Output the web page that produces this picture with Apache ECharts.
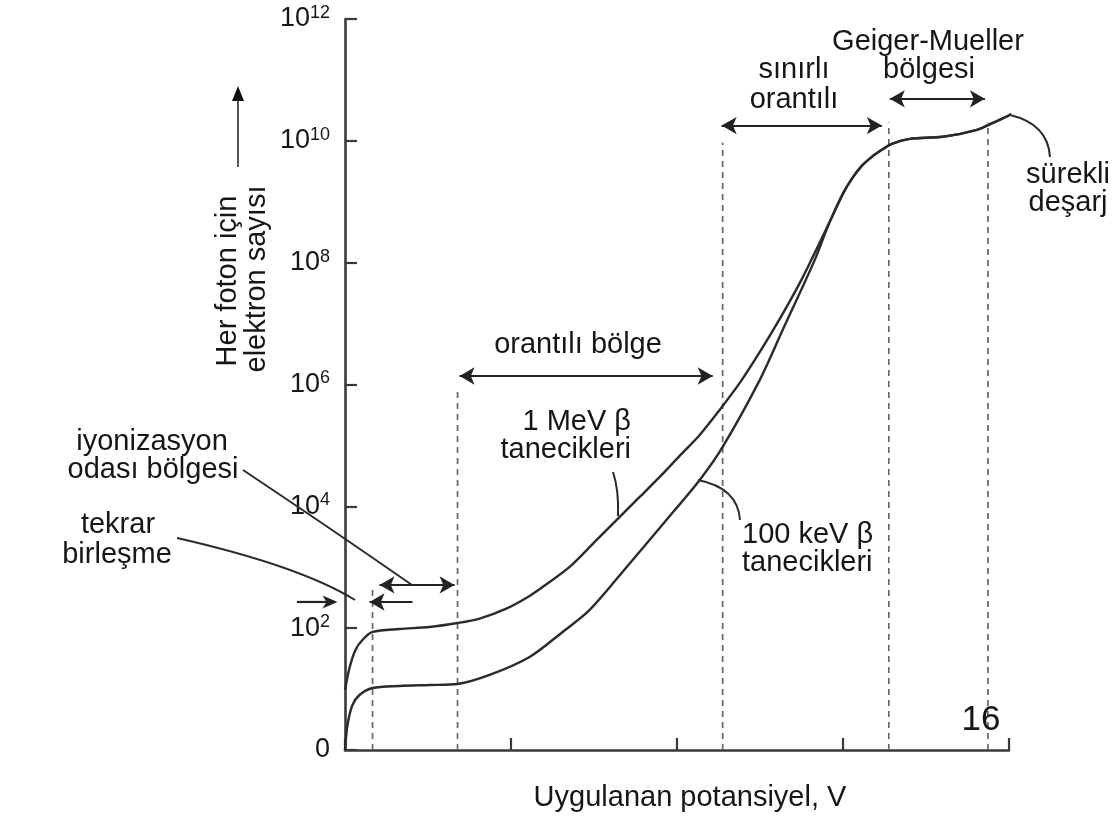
<!DOCTYPE html>
<html>
<head>
<meta charset="utf-8">
<script src="https://cdn.jsdelivr.net/npm/echarts@6/dist/echarts.min.js"></script>
<style>
  html, body { margin: 0; padding: 0; background: #fff; }
  #chart { width: 1120px; height: 821px; }
</style>
</head>
<body>
<div id="chart"></div>
<script>
// Applied potential (arbitrary units, 0..4) and log10 of electrons collected per event
const potential1MeV = [0, 0.027, 0.063, 0.105, 0.166, 0.329, 0.509, 0.678, 0.811, 0.961, 1.112, 1.233, 1.353, 1.504, 1.655, 1.775, 1.896, 2.016, 2.137, 2.257, 2.378, 2.499, 2.619, 2.740, 2.830, 2.920, 2.999, 3.053, 3.113, 3.174, 3.234, 3.294, 3.403, 3.602, 3.807, 3.903, 4.006, 4.066];
const logElectrons1MeV = [0.985, 1.346, 1.642, 1.806, 1.938, 1.987, 2.020, 2.085, 2.158, 2.307, 2.529, 2.759, 3.005, 3.415, 3.826, 4.154, 4.483, 4.828, 5.172, 5.583, 6.026, 6.535, 7.077, 7.668, 8.161, 8.670, 9.130, 9.376, 9.589, 9.737, 9.852, 9.951, 10.033, 10.066, 10.181, 10.296, 10.427, 10.558];

const potential100keV = [0, 0.015, 0.045, 0.087, 0.166, 0.329, 0.509, 0.678, 0.871, 1.112, 1.311, 1.474, 1.697, 1.926, 2.137, 2.275, 2.499, 2.637, 2.830, 2.920, 2.999, 3.053, 3.113, 3.174, 3.234, 3.294, 3.403, 3.602, 3.807, 3.903, 4.006, 4.066];
const logElectrons100keV = [0, 0.411, 0.739, 0.903, 1.018, 1.051, 1.067, 1.084, 1.232, 1.527, 1.938, 2.299, 3.005, 3.744, 4.433, 4.975, 6.076, 6.897, 8.046, 8.670, 9.130, 9.376, 9.589, 9.737, 9.852, 9.951, 10.033, 10.066, 10.181, 10.296, 10.427, 10.558];

// Region boundaries on the potential axis and the height each dashed line reaches
const regionBoundaries = [0.166, 0.678, 2.275, 3.276, 3.873];
const regionBoundaryTops = [2.71, 5.91, 9.97, 10.30, 10.30];

// Region span arrows inside the plot: [from, to, level, head at start, head at end]
const regionSpans = [
  [0.690, 2.215, 6.14, true, true],   // orantılı bölge
  [2.269, 3.234, 10.25, true, true],  // sınırlı orantılı
  [3.282, 3.855, 10.69, true, true],  // Geiger-Mueller bölgesi
  [0.208, 0.660, 2.71, true, true],   // iyonizasyon odası bölgesi
  [0.407, 0.148, 2.43, false, true]   // tekrar birleşme (right side)
];
// Arrow left of the axis pointing into the recombination region: [from, to, level]
const recombinationInlet = [-0.290, -0.045, 2.43];

// Exponents shown on the vertical axis
const exponentTicks = [0, 2, 4, 6, 8, 10, 12];

const FONT = '"Liberation Sans", Arial, Helvetica, sans-serif';
const INK = '#161616';
const LINE = '#2b2b2b';

const chart = echarts.init(document.getElementById('chart'), null, { renderer: 'canvas' });

function zip(xs, ys) { return xs.map((x, i) => [x, ys[i]]); }

const boundarySeries = regionBoundaries.map((x, i) => ({
  type: 'line',
  data: [[x, 0], [x, regionBoundaryTops[i]]],
  symbol: 'none',
  silent: true,
  animation: false,
  lineStyle: { color: '#666', width: 1.7, type: [6, 5] },
  z: 1
}));

const spanLines = regionSpans.map(s => [
  { coord: [s[0], s[2]], symbol: s[3] ? 'arrow' : 'none' },
  { coord: [s[1], s[2]], symbol: s[4] ? 'arrow' : 'none' }
]);

function label(text, x, y, opts) {
  return Object.assign({
    type: 'text', x: x, y: y, z: 20, silent: true,
    style: Object.assign({
      text: text, font: '29px ' + FONT, fill: INK,
      align: 'center', verticalAlign: 'middle'
    }, (opts && opts.style) || {})
  }, (opts && opts.el) || {});
}

function leader(x1, y1, x2, y2, cx, cy) {
  return {
    type: 'bezierCurve', z: 20, silent: true,
    shape: { x1: x1, y1: y1, x2: x2, y2: y2, cpx1: cx, cpy1: cy },
    style: { stroke: LINE, lineWidth: 2, fill: null }
  };
}

const curveStyle = {
  type: 'line',
  smooth: 0.3,
  symbol: 'none',
  clip: false,
  lineStyle: { color: LINE, width: 2.4 },
  z: 5
};

chart.setOption({
  backgroundColor: '#ffffff',
  animation: false,
  grid: { left: 345, right: 111, top: 19, bottom: 71, containLabel: false },
  xAxis: {
    type: 'value', min: 0, max: 4, interval: 1,
    axisLine: { show: true, onZero: false, lineStyle: { color: '#3a3a3a', width: 2.6 } },
    axisTick: { show: true, inside: true, length: 12, lineStyle: { color: '#3a3a3a', width: 2.2 } },
    axisLabel: { show: false },
    splitLine: { show: false }
  },
  yAxis: {
    type: 'value', min: 0, max: 12, interval: 2,
    axisLine: { show: true, onZero: false, lineStyle: { color: '#3a3a3a', width: 2.6 } },
    axisTick: { show: true, inside: true, length: 12, lineStyle: { color: '#3a3a3a', width: 2.2 } },
    axisLabel: {
      margin: 15,
      formatter: v => exponentTicks.indexOf(v) < 0 ? '' : (v === 0 ? '{b|0}' : '{b|10}{s|' + v + '}'),
      rich: {
        b: { fontSize: 27, fontFamily: FONT, color: INK },
        s: { fontSize: 18, fontFamily: FONT, color: INK, padding: [0, 0, 12, 0] }
      }
    },
    splitLine: { show: false }
  },
  series: [
    Object.assign({ name: '1 MeV β tanecikleri', data: zip(potential1MeV, logElectrons1MeV) }, curveStyle),
    Object.assign({ name: '100 keV β tanecikleri', data: zip(potential100keV, logElectrons100keV) }, curveStyle),
    ...boundarySeries,
    {
      type: 'line',
      data: [],
      silent: true,
      markLine: {
        silent: true,
        animation: false,
        symbolSize: [13, 15],
        label: { show: false },
        emphasis: { disabled: true },
        lineStyle: { color: '#222', width: 2.2, type: 'solid' },
        data: spanLines
      }
    }
  ],
  graphic: [
    // axis titles
    label('Uygulanan potansiyel, V', 690, 798),
    label('Her foton için', 228, 281, { el: { rotation: Math.PI / 2 } }),
    label('elektron sayısı', 257, 279, { el: { rotation: Math.PI / 2 } }),
    { type: 'line', z: 20, silent: true, shape: { x1: 238, y1: 167, x2: 238, y2: 98 },
      style: { stroke: '#555', lineWidth: 2 } },
    { type: 'polygon', z: 20, silent: true, shape: { points: [[238, 86], [232, 101], [244, 101]] },
      style: { fill: '#111' } },

    // region names
    label('Geiger-Mueller', 928, 42),
    label('bölgesi', 929, 70),
    label('sınırlı', 794, 70),
    label('orantılı', 794, 100),
    label('orantılı bölge', 578, 345),
    label('1 MeV β', 631, 422, { style: { align: 'right' } }),
    label('tanecikleri', 631, 450, { style: { align: 'right' } }),
    label('100 keV β', 742, 535, { style: { align: 'left' } }),
    label('tanecikleri', 742, 563, { style: { align: 'left' } }),
    label('sürekli', 1068, 175),
    label('deşarj', 1068, 203),
    label('iyonizasyon', 152, 442),
    label('odası bölgesi', 153, 470),
    label('tekrar', 118, 525),
    label('birleşme', 117, 555),
    label('16', 981, 720, { style: { font: '35px ' + FONT } }),

    // leaders from the labels
    leader(243, 470, 412, 585, 330, 528),
    leader(177, 538, 355, 600, 300, 566),
    leader(613, 472, 618, 516, 619, 490),
    leader(698, 480, 740, 520, 738, 488),
    leader(1010, 115, 1050, 157, 1048, 124)
  ]
});

// The inlet arrow sits left of the axis, outside the plotting area, so it is placed
// through the axis scales and drawn as a graphic.
const p0 = chart.convertToPixel({ gridIndex: 0 }, [recombinationInlet[0], recombinationInlet[2]]);
const p1 = chart.convertToPixel({ gridIndex: 0 }, [recombinationInlet[1], recombinationInlet[2]]);
chart.setOption({
  graphic: [
    { id: 'inletShaft', type: 'line', z: 20, silent: true,
      shape: { x1: p0[0], y1: p0[1], x2: p1[0] - 10, y2: p1[1] },
      style: { stroke: '#222', lineWidth: 2.2 } },
    { id: 'inletHead', type: 'polygon', z: 20, silent: true,
      shape: { points: [[p1[0], p1[1]], [p1[0] - 15, p1[1] - 6.5], [p1[0] - 11, p1[1]], [p1[0] - 15, p1[1] + 6.5]] },
      style: { fill: '#222' } }
  ]
});
</script>
</body>
</html>
